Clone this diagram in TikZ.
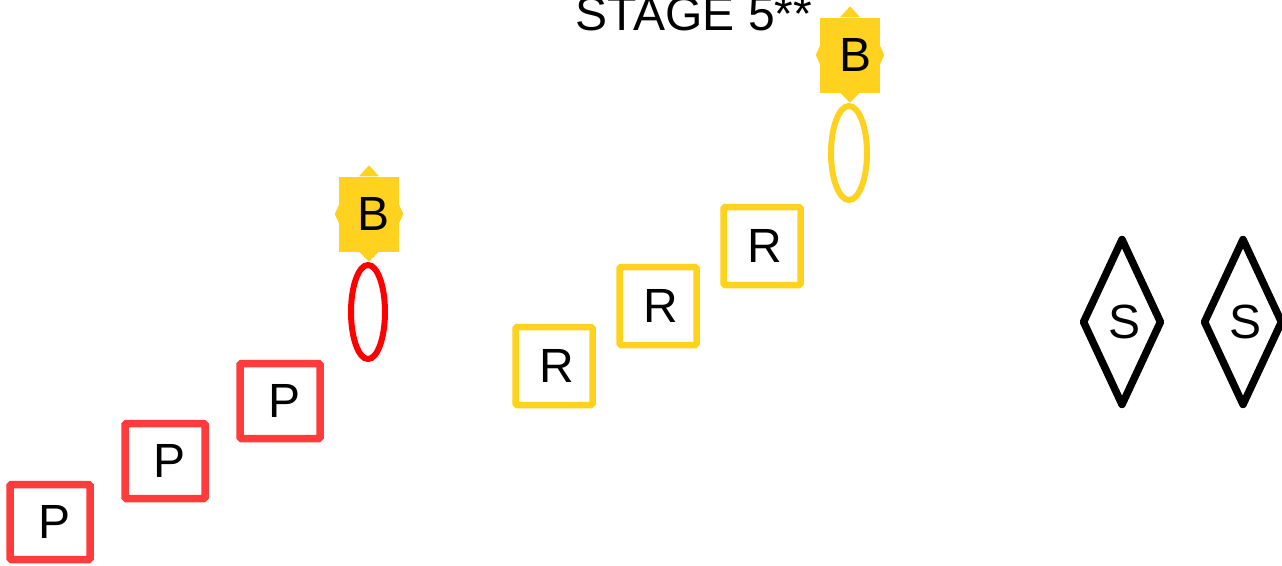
\documentclass[tikz,border=0pt]{standalone}
\usepackage{fontspec}
\setmainfont{Liberation Sans}
\usetikzlibrary{calc,shapes.geometric}

\definecolor{pred}{HTML}{FF3B3B}
\definecolor{byellow}{HTML}{FFD21F}

\tikzset{
  big/.style={font=\fontsize{48}{54}\selectfont},
  pbox/.style={big,draw=pred,line width=7.5pt,rounded corners=1.5pt,
    inner sep=0pt,minimum width=80pt,minimum height=75pt},
  rbox/.style={big,draw=byellow,line width=6.5pt,rounded corners=1.5pt,
    inner sep=0pt,minimum width=77pt,minimum height=78pt},
  bsq/.style={big,fill=byellow,inner sep=0pt,minimum width=60pt,minimum height=75pt},
  ring/.style={ellipse,line width=6pt,inner sep=0pt,minimum width=34pt,minimum height=94pt},
  sdia/.style={big,diamond,draw,line width=7.5pt,line join=round,inner sep=0pt,
    minimum width=80pt,minimum height=168pt},
}

% points round a B square
\newcommand{\bpoints}[1]{
  \fill[byellow] ($(#1.north)+(-10,0)$) -- ($(#1.north)+(0,-11)$) -- ($(#1.north)+(10,0)$) -- cycle;
  \fill[byellow] ($(#1.south)+(-10,0)$) -- ($(#1.south)+(0,10)$) -- ($(#1.south)+(10,0)$) -- cycle;
  \fill[byellow] ($(#1.west)+(0,-9)$) -- ($(#1.west)+(-4,0)$) -- ($(#1.west)+(0,9)$) -- cycle;
  \fill[byellow] ($(#1.east)+(0,-9)$) -- ($(#1.east)+(4,0)$) -- ($(#1.east)+(0,9)$) -- cycle;
}

\begin{document}
\begin{tikzpicture}[x=1pt,y=-1pt]
\useasboundingbox (0,0) rectangle (1282,565);

%title%
\node[big,anchor=base] (stage) at (694,30) {STAGE 5**};

%P boxes%
\node[pbox] (p1) at (50,522) {\raisebox{-8pt}{\hspace{9pt}P}};
\node[pbox] (p2) at (165,461) {\raisebox{-2pt}{\hspace{9pt}P}};
\node[pbox] (p3) at (280,401) {\raisebox{-7pt}{\hspace{9pt}P}};

%red ring and B%
\node[ring,draw=red] (ring1) at (368,312) {};
\node[bsq] (b1) at (369,214) {\hspace{10pt}B};
\bpoints{b1}

%R boxes%
\node[rbox] (r1) at (554,366) {\raisebox{-5pt}{\hspace{6pt}R}};
\node[rbox] (r2) at (658,306) {\raisebox{-5pt}{\hspace{6pt}R}};
\node[rbox] (r3) at (762,246) {\raisebox{-5pt}{\hspace{6pt}R}};

%yellow ring and B%
\node[ring,draw=byellow,minimum width=36pt] (ring2) at (849,153) {};
\node[bsq] (b2) at (850,55) {\hspace{10pt}B};
\bpoints{b2}

%S diamonds%
\node[sdia] (s1) at (1122,322) {\hspace{4pt}S};
\node[sdia] (s2) at (1243,322) {\hspace{4pt}S};

\end{tikzpicture}
\end{document}
